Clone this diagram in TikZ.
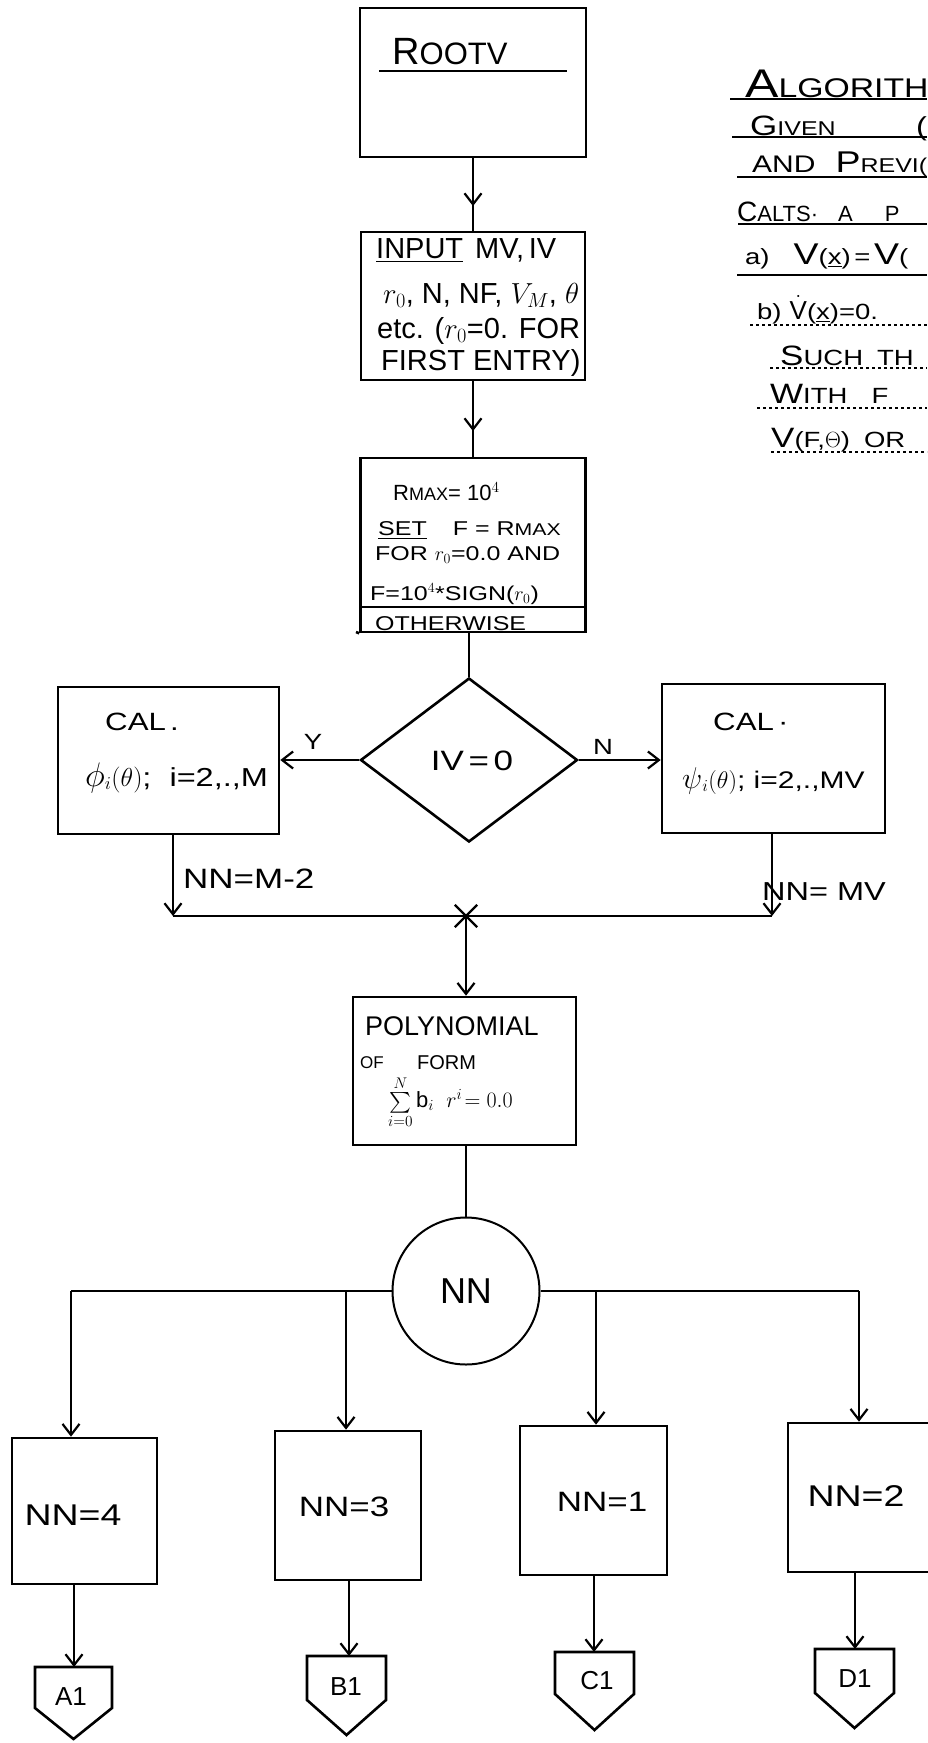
\RequirePackage{fix-cm}
\documentclass[tikz,border=0pt]{standalone}
\usepackage{exscale}
\usepackage{fontspec}
\setmainfont{Liberation Sans}
\newfontfamily\hand{Liberation Sans}[FakeStretch=1.25]
\usetikzlibrary{arrows.meta,decorations.markings,shapes.geometric,shapes.misc}
\newcommand{\szz}[2]{{\fontsize{#1}{#1}\selectfont #2}}
\begin{document}
\begin{tikzpicture}[x=1pt,y=-1pt,
  box/.style={draw, line width=2.6pt, inner sep=0pt},
  con/.style={line width=2.2pt},
  >={Straight Barb[length=11pt,width=17pt]},
  arr/.style={con, ->},
  midarrow/.style={con, postaction={decorate},
    decoration={markings, mark=at position 0.66 with {\arrow{>}}}},
  uline/.style={line width=1.6pt},
  dline/.style={line width=1.4pt, dash pattern=on 3pt off 3pt},
  fs/.style={font=\fontsize{#1}{#1}\selectfont},
  hs/.style={font=\hand\fontsize{#1}{#1}\selectfont},
  tx/.style={anchor=base west, inner sep=0pt},
]
\useasboundingbox (0,0) rectangle (927,1743);
\fill[white] (0,0) rectangle (927,1743);

% ROOTV
\node[box, minimum width=226pt, minimum height=149pt] (rootv) at (473,82.5) {};
\node[fs=31, tx] (rootvt) at (392,64) {\szz{38}{R}OOTV};
\draw[uline] (379,71) -- (567,71);

% INPUT
\node[box, minimum width=224pt, minimum height=148pt] (input) at (473,306) {};
\node[fs=29, tx] (in1) at (376,258) {\underline{INPUT}\hspace{12pt}MV,\,IV};
\node[fs=29, tx] (in2) at (383,303) {$r_0$, N, NF, $V_M$, $\theta$};
\node[fs=29, tx] (in3) at (377,338) {etc. ($r_0$=0. FOR};
\node[fs=29, tx] (in4) at (381,370) {FIRST ENTRY)};

% RMAX
\node[box, minimum width=225pt, minimum height=174pt] (rmax) at (473,545) {};
\coordinate (dv) at (0,607);
\draw[box] (rmax.west |- dv) -- (rmax.east |- dv);
\draw[box] (356,632) -- (rmax.south west);
\node[fs=22, tx] (rm1) at (393,500) {R\szz{18}{MAX}= 10$^4$};
\node[hs=20, tx] (rm2) at (378,535) {\underline{SET}\hspace{26pt}F = R\szz{17}{MAX}};
\node[hs=20, tx] (rm3) at (375,560) {FOR $r_0$=0.0 AND};
\node[hs=20, tx] (rm4) at (370,600) {F=10$^4$*SIGN($r_0$)};
\node[hs=20, tx] (rm5) at (375,630) {OTHERWISE};

% decision
\node[diamond, draw, line width=2.6pt, minimum width=217pt, minimum height=164pt, inner sep=0pt] (dec) at (469,760) {};
\node[hs=28] (dect) at (472,761) {IV\,=\,0};

% left CAL
\node[box, minimum width=221pt, minimum height=147pt] (lcal) at (168.5,760.5) {};
\node[hs=25, tx] (lc1) at (105,730) {CAL\,.};
\node[hs=26, tx] (lc2) at (85,786) {\szz{34}{$\phi$}$_i(\theta)$;\ \ i=2,.,M};

% right CAL
\node[box, minimum width=223pt, minimum height=149pt] (rcal) at (773.5,758.5) {};
\node[hs=25, tx] (rc1) at (713,730) {CAL\,·};
\node[hs=24, tx] (rc2) at (682,788) {\szz{30}{$\psi$}$_i(\theta)$;\ i=2,.,MV};

\node[hs=22] (ylab) at (313,742) {Y};
\node[hs=22] (nlab) at (603,747) {N};
\draw[arr] (dec.west) -- (dec.west -| lcal.east);
\draw[arr] (dec.east) -- (dec.east -| rcal.west);

% merge
\coordinate (lc) at (173,916);
\coordinate (rc) at (772,916);
\coordinate (jn) at (466,916);
\draw[arr] (lcal.south -| lc) -- (lc);
\draw[arr] (rcal.south -| rc) -- (rc);
\draw[con] (lc) -- (rc);
\node[hs=28, tx] (lab1) at (183,888) {NN=M-2};
\node[hs=26, tx] (lab2) at (762,900) {NN= MV};

% polynomial
\node[box, minimum width=223pt, minimum height=148pt] (poly) at (464.5,1071) {};
\node[cross out, draw, line width=2.4pt, minimum size=20pt, inner sep=0pt] (jx) at (jn) {};
\draw[arr] (jn) -- (jn |- poly.north);
\node[fs=27, tx] (p1) at (365,1035) {POLYNOMIAL};
\node[fs=17, tx] (p2) at (360,1068) {OF};
\node[fs=20, tx] (p3) at (417,1069) {FORM};
\node[fs=22, anchor=west, inner sep=0pt] (p4) at (388,1102) {$\sum\limits_{i=0}^{N}$};
\node[fs=22, anchor=west, inner sep=0pt] (p5) at (416,1100) {$\mathrm{b}_i\;\; r^{i}\!=0.0$};

% NN switch
\node[circle, draw, line width=2pt, minimum size=147pt, inner sep=0pt, fs=36] (nn) at (466,1291) {NN};
\draw[con] (poly.south -| nn.north) -- (nn.north);

\node[box, minimum width=145pt, minimum height=146pt] (b4) at (84.5,1511) {};
\node[box, minimum width=146pt, minimum height=149pt] (b3) at (348,1505.5) {};
\node[box, minimum width=147pt, minimum height=149pt] (b1) at (593.5,1500.5) {};
\node[box, minimum width=147pt, minimum height=149pt] (b2) at (861.5,1497.5) {};
\node[hs=30] (t4) at (73,1515) {NN=4};
\node[hs=28] (t3) at (344,1507) {NN=3};
\node[hs=28] (t1) at (602,1502) {NN=1};
\node[hs=30] (t2) at (856,1496) {NN=2};

\coordinate (xa) at (71,0);
\coordinate (xb) at (346,0);
\coordinate (xc) at (596,0);
\coordinate (xd) at (859,0);
\draw[con] (nn.west) -- (nn.west -| xa);
\draw[con] (nn.east) -- (nn.east -| xd);
\draw[arr] (nn.west -| xa) -- (xa |- b4.north);
\draw[arr] (nn.west -| xb) -- (xb |- b3.north);
\draw[arr] (nn.east -| xc) -- (xc |- b1.north);
\draw[arr] (nn.east -| xd) -- (xd |- b2.north);

% off-page connectors
\draw[box] (35,1667) -- (112,1667) -- (112,1708) -- (73.5,1739) -- (35,1708) -- cycle;
\draw[box] (307,1656) -- (386,1656) -- (386,1700) -- (346.5,1735) -- (307,1700) -- cycle;
\draw[box] (555,1652) -- (634,1652) -- (634,1694) -- (594.5,1730) -- (555,1694) -- cycle;
\draw[box] (815,1649) -- (894,1649) -- (894,1693) -- (854.5,1728) -- (815,1693) -- cycle;
\node[fs=26] (ca) at (71,1697) {A1};
\node[fs=26] (cb) at (346,1687) {B1};
\node[fs=26] (cc) at (597,1681) {C1};
\node[fs=26] (cd) at (855,1679) {D1};
\coordinate (ta) at (74,1667);
\coordinate (tb) at (349,1656);
\coordinate (tc) at (594,1652);
\coordinate (td) at (855,1649);
\draw[arr] (b4.south -| ta) -- (ta);
\draw[arr] (b3.south -| tb) -- (tb);
\draw[arr] (b1.south -| tc) -- (tc);
\draw[arr] (b2.south -| td) -- (td);

% top flow
\draw[midarrow] (rootv) -- (input);
\draw[midarrow] (input) -- (rmax);
\draw[con] (rmax.south -| dec.north) -- (dec.north);

% algorithm note (cut by page edge)
\node[hs=27, tx] (al1) at (745,97) {\szz{40}{A}LGORITH};
\node[hs=20, tx] (al2) at (750,135) {\szz{28}{G}IVEN};
\node[hs=26, tx] (al2b) at (916,135) {(};
\node[hs=24, tx] (al3) at (752,172) {AND\hspace{20pt}\szz{30}{P}\szz{20}{REVI(}};
\node[fs=22, tx] (al4) at (737,221) {\szz{28}{C}ALTS·\hspace{20pt}A\hspace{32pt}P};
\node[hs=22, tx] (al5) at (745,264) {a)\hspace{24pt}\szz{30}{V}(\underline{x})\,=\,\szz{30}{V}(};
\node[hs=22, tx] (al6) at (757,319) {b)\hspace{8pt}\szz{26}{$\dot{\mathrm{V}}$}(\underline{x})=0.};
\node[hs=22, tx] (al7) at (780,365) {\szz{28}{S}UCH\hspace{14pt}TH};
\node[hs=22, tx] (al8) at (770,403) {\szz{28}{W}ITH\hspace{24pt}F};
\node[hs=22, tx] (al9) at (771,447) {\szz{28}{V}(F,$\Theta$)\hspace{14pt}OR};
\draw[uline] (730,99) -- (927,99);
\draw[uline] (732,137) -- (927,137);
\draw[uline] (737,177) -- (927,177);
\draw[uline] (738,224) -- (927,224);
\draw[uline] (737,275) -- (927,275);
\draw[dline] (750,325) -- (927,325);
\draw[dline] (770,368) -- (927,368);
\draw[dline] (757,408) -- (927,408);
\draw[dline] (771,452) -- (927,452);
\end{tikzpicture}
\end{document}
